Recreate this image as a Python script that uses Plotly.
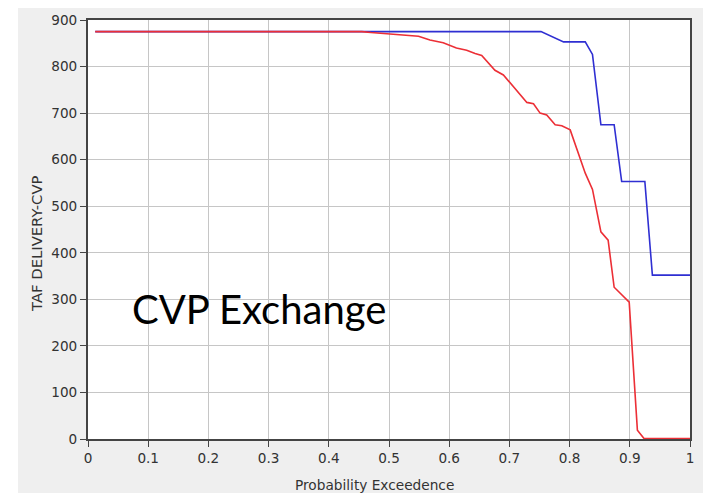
import plotly.graph_objects as go

# Data
blue_x = [0.012, 0.7525, 0.79, 0.826, 0.838, 0.852, 0.874, 0.8865, 0.925, 0.9375, 1.0]
blue_y = [875, 875, 853, 853, 826, 675, 675, 553, 553, 352, 352]

red_x = [0.012, 0.455, 0.47, 0.5, 0.527, 0.549, 0.568, 0.59, 0.612, 0.629, 0.643,
         0.654, 0.676, 0.69, 0.729, 0.74, 0.751, 0.762, 0.776, 0.787, 0.801, 0.826,
         0.838, 0.852, 0.864, 0.874, 0.899, 0.9126, 0.9236, 1.0]
red_y = [875, 875, 873, 870, 866, 865, 857, 851, 840, 835, 828,
         824, 792, 782, 723, 720, 700, 696, 675, 673, 664, 571,
         536, 445, 427, 326, 294, 19, 1, 1]

x_ticks = [0, 0.1, 0.2, 0.3, 0.4, 0.5, 0.6, 0.7, 0.8, 0.9, 1]
y_ticks = [0, 100, 200, 300, 400, 500, 600, 700, 800, 900]

W, H = 709, 493
L, R, T, B = 88, 19, 18, 54
pw, ph = W - L - R, H - T - B

def px_to_paper_x(px):
    return (px - L) / pw

def px_to_paper_y(py):
    return (H - B - py) / ph

fig = go.Figure()
fig.add_trace(go.Scatter(x=blue_x, y=blue_y, mode="lines",
                         line=dict(color="#2f2fd2", width=1.6), showlegend=False))
fig.add_trace(go.Scatter(x=red_x, y=red_y, mode="lines",
                         line=dict(color="#ec2f36", width=1.6), showlegend=False))

axis_common = dict(
    showgrid=True, gridcolor="#c6c6c6", gridwidth=1,
    showline=True, linecolor="#444444", linewidth=2, mirror=True,
    ticks="outside", ticklen=6, tickcolor="#444444", tickwidth=1,
    tickfont=dict(family="DejaVu Sans", size=13.6, color="#333333"),
    zeroline=False, fixedrange=True,
)

fig.update_xaxes(range=[0, 1], tickvals=x_ticks,
                 ticktext=[f"{v:g}" for v in x_ticks], **axis_common)
fig.update_yaxes(range=[0, 900], tickvals=y_ticks,
                 ticktext=[str(v) for v in y_ticks], **axis_common)

fig.update_layout(
    width=W, height=H,
    margin=dict(l=L, r=R, t=T, b=B, pad=0),
    paper_bgcolor="white",
    plot_bgcolor="white",
    shapes=[
        dict(type="rect", xref="paper", yref="paper", layer="below",
             x0=px_to_paper_x(18), x1=px_to_paper_x(703),
             y0=px_to_paper_y(500), y1=px_to_paper_y(6),
             fillcolor="#efefef", line=dict(width=0)),
        dict(type="rect", xref="paper", yref="paper", layer="below",
             x0=0, x1=1, y0=0, y1=1,
             fillcolor="white", line=dict(width=0)),
    ],
    annotations=[
        dict(text="CVP Exchange", xref="paper", yref="paper",
             x=px_to_paper_x(130), y=px_to_paper_y(308),
             xanchor="left", yanchor="middle", showarrow=False,
             font=dict(family="Lato", size=40, color="black")),
        dict(text="Probability Exceedence", xref="paper", yref="paper",
             x=px_to_paper_x(374.5), y=px_to_paper_y(485),
             xanchor="center", yanchor="middle", showarrow=False,
             font=dict(family="DejaVu Sans", size=13.7, color="#333333")),
        dict(text="TAF DELIVERY-CVP", xref="paper", yref="paper",
             x=px_to_paper_x(37), y=px_to_paper_y(243),
             xanchor="center", yanchor="middle", showarrow=False, textangle=-90,
             font=dict(family="DejaVu Sans", size=14.8, color="#333333")),
    ],
)

fig.write_html("out.html", config={"displayModeBar": False},
               post_script="document.body.style.margin='0';document.body.style.overflow='hidden';")
